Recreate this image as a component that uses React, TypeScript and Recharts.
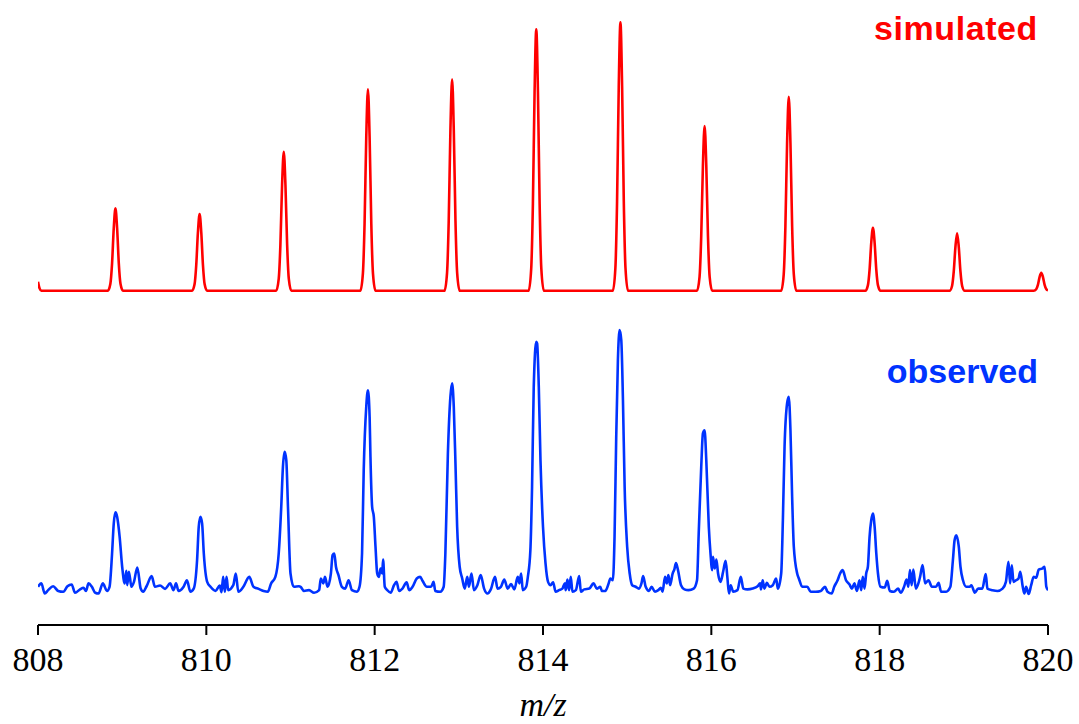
import { LineChart, Line, XAxis, YAxis } from 'recharts';

// m/z ticks along the bottom axis
const xTicks = [808, 810, 812, 814, 816, 818, 820];

// simulated isotope pattern: [m/z, relative intensity %]
const simulatedPoints: [number, number][] = [
    [808.0, 3.4], [808.02, 0.8], [808.04, 0],
    [808.83, 0], [808.86, 2.6], [808.88, 10.2], [808.9, 23.3], [808.92, 30.7], [808.94, 23.3], [808.96, 10.2], [808.98, 2.6], [809.01, 0],
    [809.83, 0], [809.86, 2.4], [809.88, 9.5], [809.9, 21.7], [809.92, 28.6], [809.94, 21.7], [809.96, 9.5], [809.98, 2.4], [810.01, 0],
    [810.83, 0], [810.86, 4.4], [810.88, 17.2], [810.9, 39.4], [810.92, 51.8], [810.94, 39.4], [810.96, 17.2], [810.98, 4.4], [811.01, 0],
    [811.83, 0], [811.86, 6.4], [811.88, 25.0], [811.9, 57.1], [811.92, 75.1], [811.94, 57.1], [811.96, 25.0], [811.98, 6.4], [812.01, 0],
    [812.83, 0], [812.86, 6.7], [812.88, 26.2], [812.9, 59.9], [812.92, 78.8], [812.94, 59.9], [812.96, 26.2], [812.98, 6.7], [813.01, 0],
    [813.83, 0], [813.86, 8.3], [813.88, 32.4], [813.9, 74.0], [813.92, 97.4], [813.94, 74.0], [813.96, 32.4], [813.98, 8.3], [814.01, 0],
    [814.83, 0], [814.86, 8.5], [814.88, 33.3], [814.9, 76.0], [814.92, 100], [814.94, 76.0], [814.96, 33.3], [814.98, 8.5], [815.01, 0],
    [815.83, 0], [815.86, 5.2], [815.88, 20.4], [815.9, 46.7], [815.92, 61.4], [815.94, 46.7], [815.96, 20.4], [815.98, 5.2], [816.01, 0],
    [816.83, 0], [816.86, 6.1], [816.88, 24.1], [816.9, 54.9], [816.92, 72.3], [816.94, 54.9], [816.96, 24.1], [816.98, 6.1], [817.01, 0],
    [817.83, 0], [817.86, 2.0], [817.88, 7.8], [817.9, 17.9], [817.92, 23.5], [817.94, 17.9], [817.96, 7.8], [817.98, 2.0], [818.01, 0],
    [818.83, 0], [818.86, 1.8], [818.88, 7.1], [818.9, 16.3], [818.92, 21.4], [818.94, 16.3], [818.96, 7.1], [818.98, 1.8], [819.01, 0],
    [819.83, 0], [819.86, 0.6], [819.88, 2.2], [819.9, 5.1], [819.92, 6.7], [819.94, 5.1], [819.96, 2.2], [819.98, 0.6], [820.0, 0.2],
];

const observedPoints: [number, number][] = [
    [808.0, 1.3], [808.04, 2.6], [808.08, -1.3], [808.12, 0], [808.18, 1.5], [808.24, -0.3], [808.3, -0.6], [808.35, 1.5],
    [808.4, 2.2], [808.44, -1], [808.5, 0.3], [808.54, 0.9], [808.57, -0.3], [808.6, 2.6], [808.64, 1.3], [808.68, -1],
    [808.72, -1.3], [808.77, 2.6], [808.82, -0.3], [808.85, 1.3], [808.88, 14.1], [808.9, 25.6], [808.92, 29.9], [808.94, 28.2],
    [808.97, 20.5], [809.0, 9.0], [809.03, 2.6], [809.05, 7.4], [809.06, 1.9], [809.08, 7.1], [809.11, 1.3], [809.14, 3.2],
    [809.18, 8.7], [809.22, 0.6], [809.25, -0.6], [809.29, 1.5], [809.35, 5.4], [809.39, 1.3], [809.45, 1.8], [809.51, 0.5],
    [809.57, 2.6], [809.61, 0], [809.64, 2.6], [809.67, -0.3], [809.73, 1.3], [809.77, 3.8], [809.81, -0.6], [809.85, 0.6],
    [809.89, 11.5], [809.91, 24.4], [809.93, 28.2], [809.95, 25.6], [809.97, 14.1], [810.01, 3.2], [810.05, 1.3], [810.11, -0.3],
    [810.16, 1.8], [810.18, -0.8], [810.2, 5.1], [810.22, -0.6], [810.24, 5.1], [810.26, 0], [810.32, 1.9], [810.35, 6.4],
    [810.38, -0.6], [810.44, 1.3], [810.51, 5.1], [810.56, 1.3], [810.62, 0.5], [810.68, -0.3], [810.73, -0.6], [810.77, 2.6],
    [810.82, 5.1], [810.86, 14.1], [810.89, 32.0], [810.91, 47.4], [810.93, 53.2], [810.95, 50.0], [810.97, 32.0], [811.0, 6.4],
    [811.04, 1.3], [811.1, 1.5], [811.12, 1.3], [811.16, -0.3], [811.22, 0], [811.28, -1], [811.34, 0], [811.36, 4.5],
    [811.39, 2.6], [811.41, 5.1], [811.44, 1.3], [811.48, 6.4], [811.5, 13.5], [811.52, 14.1], [811.54, 9.0], [811.57, 5.8],
    [811.61, 1.3], [811.65, 0.6], [811.69, 3.8], [811.73, 0], [811.79, -0.6], [811.82, 1.3], [811.85, 14.1], [811.87, 46.2],
    [811.9, 70.5], [811.92, 76.9], [811.94, 66.7], [811.95, 51.3], [811.97, 32.0], [811.99, 28.2], [812.01, 16.7], [812.03, 6.4],
    [812.05, 5.1], [812.07, 8.3], [812.09, 6.4], [812.1, 11.8], [812.12, 1.3], [812.15, 0], [812.19, -1], [812.23, 1.9],
    [812.26, 3.2], [812.29, -0.3], [812.33, 0.6], [812.38, 3.0], [812.41, 0], [812.45, 1.3], [812.5, 4.5], [812.54, 5.1],
    [812.57, 3.5], [812.62, 1.3], [812.67, 1.3], [812.7, 3.2], [812.72, -0.3], [812.78, -0.6], [812.82, 1.3], [812.84, 14.1],
    [812.87, 52.6], [812.9, 74.4], [812.92, 79.5], [812.94, 70.5], [812.96, 48.7], [812.98, 24.4], [813.01, 9.0], [813.04, 4.5],
    [813.07, 0.6], [813.1, 5.1], [813.12, 1.3], [813.15, 6.4], [813.18, 0], [813.22, 1.9], [813.26, 5.8], [813.3, 0.6],
    [813.34, -1.3], [813.38, 0.3], [813.43, 5.1], [813.46, 0.6], [813.5, 1.3], [813.54, 4.1], [813.58, 0.6], [813.62, 2.3],
    [813.66, 0.3], [813.7, 5.1], [813.72, 2.6], [813.74, 6.4], [813.76, 0], [813.8, 1.3], [813.82, 5.1], [813.85, 15.4],
    [813.87, 39.7], [813.89, 78.2], [813.92, 95.5], [813.93, 94.9], [813.95, 78.2], [813.97, 50.0], [814.0, 24.4], [814.03, 10.3],
    [814.06, 3.2], [814.09, 1.9], [814.12, 3.0], [814.15, -0.6], [814.19, 0], [814.23, 0.6], [814.26, 2.6], [814.27, 0],
    [814.29, 4.1], [814.31, 0], [814.33, 5.1], [814.35, -0.6], [814.39, 0], [814.43, 5.4], [814.45, -0.6], [814.49, 0.3],
    [814.55, 0.6], [814.6, 2.6], [814.64, 0.6], [814.68, 1.3], [814.7, -0.3], [814.74, -0.3], [814.78, 2.6], [814.8, 4.5],
    [814.83, 3.8], [814.85, 20.5], [814.87, 59.0], [814.89, 88.5], [814.91, 100], [814.93, 96.2], [814.95, 73.0], [814.97, 39.7],
    [815.0, 16.7], [815.03, 6.4], [815.06, 1.9], [815.1, 1.3], [815.14, 0.6], [815.17, 2.6], [815.19, 5.4], [815.22, 1.3],
    [815.26, -0.3], [815.29, 1.3], [815.33, -0.6], [815.37, 0], [815.4, 0.9], [815.42, -0.6], [815.45, 5.1], [815.47, 2.6],
    [815.49, 5.8], [815.51, 1.9], [815.54, 6.4], [815.56, 7.9], [815.58, 10.4], [815.6, 8.3], [815.64, 1.9], [815.68, 0.3],
    [815.73, 0], [815.79, 0.6], [815.83, 3.8], [815.85, 21.8], [815.88, 47.4], [815.9, 60.3], [815.92, 61.5], [815.94, 50.0],
    [815.97, 24.4], [815.99, 14.1], [816.01, 7.7], [816.02, 12.8], [816.04, 8.3], [816.06, 11.8], [816.08, 6.4], [816.11, 3.2],
    [816.14, 7.1], [816.17, 11.3], [816.19, 5.1], [816.21, -1.3], [816.23, 1.9], [816.26, -0.6], [816.31, 0], [816.35, 5.1],
    [816.38, 0.6], [816.43, 0.3], [816.49, 0.6], [816.55, 1.5], [816.58, 2.6], [816.59, 0.3], [816.61, 3.8], [816.63, 0.6],
    [816.66, 2.8], [816.69, 1.3], [816.73, 1.9], [816.77, 4.5], [816.79, 0.6], [816.83, 6.4], [816.85, 26.9], [816.87, 55.1],
    [816.9, 71.8], [816.92, 74.4], [816.94, 61.5], [816.96, 35.9], [816.98, 16.7], [817.02, 6.4], [817.04, 4.5], [817.08, 1.3],
    [817.14, 1.3], [817.18, -0.6], [817.24, -0.6], [817.3, -0.3], [817.35, 1.3], [817.38, -0.6], [817.43, -1.3], [817.46, 1.3],
    [817.5, 3.8], [817.53, 6.4], [817.56, 7.7], [817.6, 3.8], [817.64, 2.3], [817.67, 0.6], [817.7, 2.6], [817.73, -0.3],
    [817.76, 3.8], [817.78, 0], [817.8, 5.1], [817.82, 0.6], [817.84, 6.4], [817.86, 9.0], [817.88, 20.5], [817.9, 26.9],
    [817.92, 29.5], [817.94, 24.4], [817.96, 14.1], [817.98, 6.4], [818.01, 1.3], [818.06, 1.0], [818.09, 3.6], [818.12, -0.3],
    [818.17, -0.6], [818.22, 0.6], [818.25, -1], [818.29, 1.3], [818.32, 4.1], [818.34, 1.3], [818.36, 7.7], [818.38, 1.9],
    [818.4, 7.9], [818.43, 0.6], [818.46, 2.6], [818.48, 5.1], [818.51, 9.7], [818.54, 2.6], [818.58, 3.8], [818.62, 1.3],
    [818.67, 1.3], [818.7, 2.8], [818.73, -0.6], [818.79, -0.6], [818.84, 1.3], [818.87, 11.5], [818.89, 19.2], [818.91, 21.1],
    [818.94, 16.7], [818.96, 9.0], [818.99, 3.8], [819.03, 1.3], [819.07, 1.3], [819.09, 1.9], [819.13, -1], [819.17, 0.6],
    [819.22, 0.6], [819.26, 6.2], [819.28, 0.6], [819.34, 0], [819.4, -0.3], [819.46, 0.6], [819.5, 3.2], [819.53, 10.9],
    [819.55, 2.6], [819.57, 9.6], [819.59, 3.2], [819.62, 3.8], [819.65, 4.5], [819.67, 7.1], [819.7, 1.3], [819.72, -1.3],
    [819.74, 1.3], [819.77, -1.5], [819.8, 1.9], [819.83, 5.1], [819.86, 4.8], [819.89, 7.9], [819.93, 8.3], [819.96, 9.0],
    [819.98, 1.3], [820.0, 0],
];

const simData = simulatedPoints.map(([mz, v]) => ({ mz, v }));
const obsData = observedPoints.map(([mz, v]) => ({ mz, v }));

const RED = '#ff0000';
const BLUE = '#0033ff';

export default function App() {
    return (
        <div style={{ position: 'absolute', left: 0, top: 0, width: 1079, height: 724, background: '#fff' }}>
            <LineChart width={1079} height={724} margin={{ top: 10, right: 31, left: 38, bottom: 0 }}>
                <XAxis
                    dataKey="mz"
                    type="number"
                    domain={[808, 820]}
                    ticks={xTicks}
                    allowDataOverflow
                    height={99}
                    tickSize={10}
                    tickMargin={12}
                    tick={{ fontFamily: 'Liberation Serif', fontSize: 34, fill: '#000' }}
                    axisLine={{ stroke: '#000', strokeWidth: 2 }}
                    tickLine={{ stroke: '#000', strokeWidth: 2 }}
                    label={{
                        value: 'm/z',
                        position: 'insideBottom',
                        offset: 8,
                        fontFamily: 'Liberation Serif',
                        fontSize: 34,
                        fontStyle: 'italic',
                        fill: '#000',
                    }}
                />
                <YAxis yAxisId="sim" hide domain={[-124.5, 104.6]} allowDataOverflow />
                <YAxis yAxisId="obs" hide domain={[-13.4, 223.1]} allowDataOverflow />
                <Line
                    yAxisId="sim"
                    data={simData}
                    dataKey="v"
                    type="monotone"
                    stroke={RED}
                    strokeWidth={2.6}
                    dot={false}
                    activeDot={false}
                    isAnimationActive={false}
                />
                <Line
                    yAxisId="obs"
                    data={obsData}
                    dataKey="v"
                    type="monotone"
                    stroke={BLUE}
                    strokeWidth={2.6}
                    dot={false}
                    activeDot={false}
                    isAnimationActive={false}
                />
            </LineChart>
            <svg width={1079} height={724} style={{ position: 'absolute', left: 0, top: 0, pointerEvents: 'none' }}>
                <text x={1038} y={39.5} textAnchor="end" fontFamily="Liberation Sans" fontWeight="bold" fontSize={34} letterSpacing={0.6} fill={RED}>
                    simulated
                </text>
                <text x={1038} y={382.5} textAnchor="end" fontFamily="Liberation Sans" fontWeight="bold" fontSize={34} fill={BLUE}>
                    observed
                </text>
            </svg>
        </div>
    );
}
